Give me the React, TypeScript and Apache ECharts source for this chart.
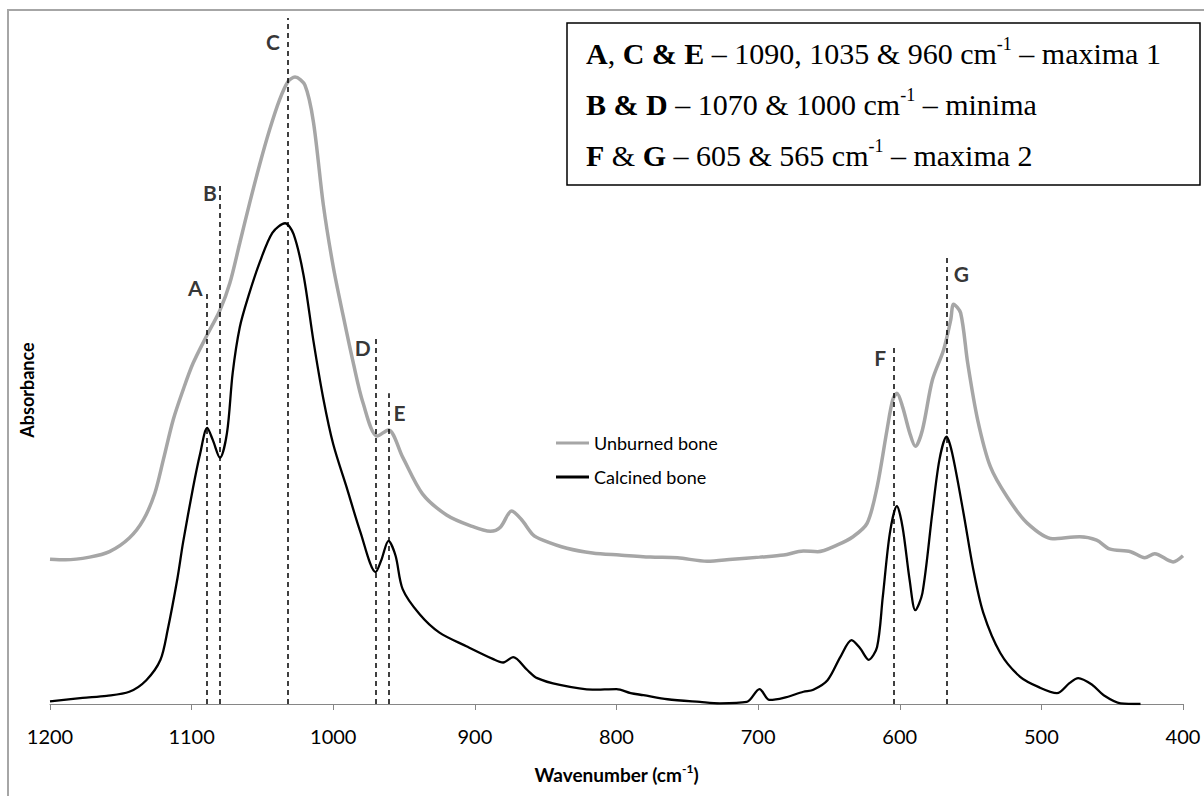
import React, { useEffect, useRef } from 'react';
import * as echarts from 'echarts';

// Unburned bone spectrum (wavenumber cm-1, absorbance a.u.)
const unburnedWavenumber = [1200,1189,1172,1158,1144,1134,1126,1120,1113,1106,1099,1089,1080,1073,1066,1059,1052,1045,1038,1032,1027,1020,1014,1007,1000,993,986,979,969,961,951,937,920,903,889,882,874,867,859,852,835,817,798,776,757,736,718,699,682,668,658,644,633,623,616,609,605,602,598,593,589,584,577,569,564,562,557,552,545,536,524,510,492,473,461,452,437,427,420,407,400];
const unburnedAbsorbance = [0.213,0.212,0.216,0.224,0.244,0.271,0.310,0.359,0.418,0.462,0.501,0.543,0.579,0.619,0.678,0.737,0.793,0.844,0.888,0.915,0.922,0.910,0.856,0.734,0.643,0.571,0.503,0.443,0.394,0.403,0.363,0.309,0.278,0.262,0.254,0.260,0.284,0.271,0.249,0.241,0.229,0.222,0.219,0.216,0.215,0.210,0.213,0.216,0.219,0.225,0.224,0.234,0.246,0.266,0.319,0.403,0.447,0.457,0.437,0.399,0.379,0.403,0.476,0.521,0.565,0.588,0.575,0.501,0.418,0.349,0.304,0.266,0.243,0.246,0.241,0.228,0.224,0.215,0.221,0.209,0.218];

// Calcined bone spectrum
const calcinedWavenumber = [1200,1177,1160,1144,1132,1122,1117,1110,1106,1099,1094,1089,1085,1080,1075,1071,1066,1060,1052,1043,1034,1028,1021,1014,1007,1000,990,981,970,966,961,956,951,939,925,906,887,880,873,863,856,840,817,800,790,781,764,741,727,708,699,692,682,668,661,651,642,634,628,622,616,612,607,602,598,593,589,584,577,572,567,563,555,548,541,529,515,501,489,480,474,464,456,444,430];
const calcinedAbsorbance = [0.004,0.009,0.012,0.018,0.035,0.065,0.108,0.185,0.238,0.318,0.368,0.406,0.388,0.362,0.399,0.487,0.554,0.599,0.649,0.693,0.707,0.691,0.631,0.534,0.449,0.382,0.315,0.254,0.194,0.212,0.240,0.218,0.169,0.132,0.105,0.085,0.066,0.061,0.069,0.050,0.038,0.028,0.021,0.022,0.016,0.013,0.007,0.003,0.001,0.003,0.022,0.006,0.009,0.018,0.021,0.035,0.069,0.094,0.082,0.065,0.084,0.157,0.251,0.291,0.260,0.182,0.138,0.163,0.281,0.359,0.393,0.369,0.281,0.197,0.134,0.075,0.040,0.024,0.016,0.031,0.038,0.028,0.013,0.001,0.000];

// Marker lines
const markerLetters = ['A', 'B', 'C', 'D', 'E', 'F', 'G'];
const markerWavenumber = [1089, 1080, 1032, 970, 961, 604, 567];
const markerTop = [0.609, 0.763, 1.009, 0.540, 0.457, 0.528, 0.656];

const seriesNames = ['Unburned bone', 'Calcined bone'];

const legendLines = [
  '{b|A}{n|, }{b|C & E}{n| – 1090, 1035 & 960 cm}{s|-1}{n| – maxima 1}',
  '{b|B & D}{n| – 1070 & 1000 cm}{s|-1}{n| – minima}',
  '{b|F}{n| & }{b|G}{n| – 605 & 565 cm}{s|-1}{n| – maxima 2}',
];

const letterOffset: Record<string, [number, number]> = {
  A: [-12, -2],
  B: [-10, 7],
  C: [-15, 24],
  D: [-13, 11],
  E: [11, 19],
  F: [-14, 13],
  G: [15, 16],
};

export default function App() {
  const ref = useRef<HTMLDivElement>(null);
  useEffect(() => {
    if (!ref.current) return;
    const chart = echarts.init(ref.current, undefined, { renderer: 'svg' });
    const sans = 'Lato, "Open Sans", sans-serif';
    const serif = '"Liberation Serif", "Times New Roman", serif';
    const boxRich = {
      n: { fontFamily: serif, fontSize: 30, color: '#000', lineHeight: 36 },
      b: { fontFamily: serif, fontSize: 30, fontWeight: 'bold', color: '#000', lineHeight: 36 },
      s: { fontFamily: serif, fontSize: 18, color: '#000', lineHeight: 22, verticalAlign: 'top' },
    };
    const option: any = {
      animation: false,
      backgroundColor: '#fff',
      grid: { left: 50, right: 21, top: 3.6, bottom: 92, containLabel: false },
      xAxis: {
        type: 'value',
        inverse: true,
        min: 400,
        max: 1200,
        interval: 100,
        axisLine: { show: true, lineStyle: { color: '#868686', width: 1 } },
        axisTick: { show: true, length: 6, lineStyle: { color: '#868686' } },
        axisLabel: {
          margin: 22,
          fontFamily: sans,
          fontSize: 20,
          color: '#000',
          formatter: (v: number) => String(v),
        },
        splitLine: { show: false },
        name: '{t|Wavenumber (cm}{s|-1}{t|)}',
        nameLocation: 'middle',
        nameGap: 58,
        nameTextStyle: {
          rich: {
            t: { fontFamily: sans, fontWeight: 'bold', fontSize: 19, color: '#000', lineHeight: 24 },
            s: { fontFamily: sans, fontWeight: 'bold', fontSize: 12, color: '#000', lineHeight: 14, verticalAlign: 'top' },
          },
        },
      },
      yAxis: { type: 'value', min: 0, max: 1.03, show: false },
      legend: {
        orient: 'vertical',
        left: 551,
        top: 429,
        itemWidth: 33,
        itemHeight: 3,
        itemGap: 16,
        data: seriesNames.map((n) => ({ name: n, icon: 'rect' })),
        textStyle: { fontFamily: sans, fontSize: 18, color: '#000' },
      },
      series: [
        {
          name: seriesNames[0],
          type: 'line',
          data: unburnedWavenumber.map((w, i) => [w, unburnedAbsorbance[i]]),
          symbol: 'none',
          showSymbol: false,
          smooth: 0.3,
          lineStyle: { color: '#a6a6a6', width: 3.5 },
          itemStyle: { color: '#a6a6a6' },
        },
        {
          name: seriesNames[1],
          type: 'line',
          data: calcinedWavenumber.map((w, i) => [w, calcinedAbsorbance[i]]),
          symbol: 'none',
          showSymbol: false,
          smooth: 0.3,
          lineStyle: { color: '#000', width: 2.3 },
          itemStyle: { color: '#000' },
        },
        {
          name: 'markers',
          type: 'scatter',
          symbolSize: 0,
          silent: true,
          data: markerWavenumber.map((w, i) => ({
            value: [w, markerTop[i]],
            label: { formatter: markerLetters[i], offset: letterOffset[markerLetters[i]] },
          })),
          label: {
            show: true,
            position: 'inside',
            fontFamily: sans,
            fontWeight: 'bold',
            fontSize: 21,
            color: '#000',
          },
          markLine: {
            silent: true,
            symbol: ['none', 'none'],
            label: { show: false },
            lineStyle: { type: [5, 4], color: '#000', width: 1.5 },
            data: markerWavenumber.map((w, i) => [
              { coord: [w, 0] },
              { coord: [w, markerTop[i]] },
            ]),
          },
        },
      ],
      graphic: [
        {
          type: 'rect',
          shape: { x: 8, y: 10, width: 1400, height: 1000 },
          style: { fill: 'none', stroke: '#a6a6a6', lineWidth: 2 },
          silent: true,
        },
        {
          type: 'rect',
          shape: { x: 567, y: 23, width: 633, height: 162 },
          style: { fill: '#fff', stroke: '#000', lineWidth: 1.5 },
          silent: true,
        },
        ...legendLines.map((t, i) => ({
          type: 'text',
          x: 586,
          y: 53 + i * 51,
          silent: true,
          style: { text: t, rich: boxRich, verticalAlign: 'middle', align: 'left' },
        })),
        {
          type: 'text',
          x: 27,
          y: 390,
          rotation: Math.PI / 2,
          silent: true,
          style: {
            text: 'Absorbance',
            fontFamily: sans,
            fontWeight: 'bold',
            fontSize: 18,
            fill: '#000',
            align: 'center',
            verticalAlign: 'middle',
          },
        },
      ],
    };
    chart.setOption(option);
    return () => chart.dispose();
  }, []);
  return (
    <div
      ref={ref}
      style={{ position: 'fixed', left: 0, top: 0, width: 1204, height: 796, background: '#fff' }}
    />
  );
}
